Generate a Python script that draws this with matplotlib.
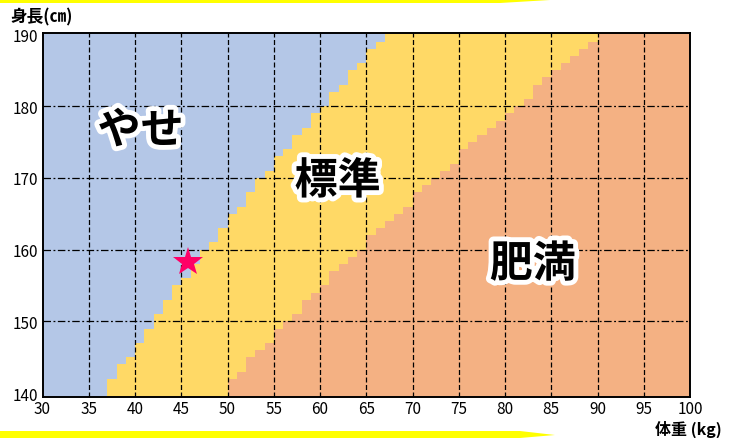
import numpy as np
import matplotlib.pyplot as plt
from matplotlib.colors import ListedColormap
from matplotlib.patches import Polygon
import matplotlib.patheffects as pe

plt.rcParams['font.family'] = ['Noto Sans CJK JP', 'DejaVu Sans']

# cell edges: 1 kg x 1 cm
weight_edges = np.arange(30, 101)
height_edges = np.arange(139, 192)

# やせ / 標準 boundary: for each kg column, the height where やせ starts
thin_w = list(range(37, 67))
thin_top = [142, 144, 145, 147, 149, 151, 153, 155, 156, 158,
            160, 161, 163, 165, 166, 168, 170, 171, 173, 174,
            176, 177, 179, 180, 182, 183, 185, 186, 188, 189]

# 標準 / 肥満 boundary: for each kg column, the height where 標準 starts
fat_w = list(range(50, 90))
fat_top = [142, 143, 145, 146, 147, 149, 150, 151, 153, 154,
           155, 157, 158, 159, 160, 162, 163, 164, 165, 166,
           168, 169, 170, 171, 172, 174, 175, 176, 177, 178,
           179, 180, 181, 183, 184, 185, 186, 187, 188, 189]

labels = ['やせ', '標準', '肥満']
label_pos = [(40.6, 176.6), (61.9, 169.6), (83.0, 158.0)]

star_w, star_h = 45.7, 158.3

colors = ['#b4c7e7', '#ffd966', '#f4b183']

cols = weight_edges[:-1]
rows = height_edges[:-1]
grid = np.ones((len(rows), len(cols)))
for j, w in enumerate(cols):
    if w < thin_w[0]:
        lim1 = height_edges[0]
    elif w > thin_w[-1]:
        lim1 = height_edges[-1]
    else:
        lim1 = thin_top[thin_w.index(w)]
    if w < fat_w[0]:
        lim2 = height_edges[0]
    elif w > fat_w[-1]:
        lim2 = height_edges[-1]
    else:
        lim2 = fat_top[fat_w.index(w)]
    for i, h in enumerate(rows):
        if h >= lim1:
            grid[i, j] = 0
        elif h < lim2:
            grid[i, j] = 2

fig = plt.figure(figsize=(7.36, 4.39), dpi=100)
ax = fig.add_axes([42.5/736, 1-398/439, (690-42.5)/736, (398-34)/439])

ax.pcolormesh(weight_edges, height_edges, grid, cmap=ListedColormap(colors),
              vmin=-0.5, vmax=2.5, zorder=1)

ax.set_xlim(30, 100)
ax.set_ylim(139.45, 190.2)
ax.set_xticks(range(30, 101, 5))
ax.set_yticks(range(140, 191, 10))

for x in range(35, 100, 5):
    ax.axvline(x, color='black', lw=0.9, ls=(0, (4, 2)), zorder=2)
for y in range(150, 190, 10):
    ax.axhline(y, color='black', lw=0.9, ls=(0, (6, 2, 1.5, 2)), zorder=2)

for s in ax.spines.values():
    s.set_linewidth(1.4)
    s.set_zorder(5)
ax.tick_params(length=0, labelsize=11)
ax.tick_params(axis='x', pad=2)
ax.tick_params(axis='y', pad=3)

for lab, (x, y) in zip(labels, label_pos):
    ax.text(x, y, lab, fontsize=31, fontweight='bold', ha='center', va='center',
            zorder=4, path_effects=[pe.withStroke(linewidth=7, foreground='white')])

ax.plot(star_w, star_h, marker='*', color='#ff0066', markersize=22,
        markeredgewidth=0, zorder=6)

fig.text(10/736, 1-17/439, '身長(㎝)', fontsize=12, fontweight='bold',
         ha='left', va='center')
fig.text(722/736, 1-429/439, '体重 (kg)', fontsize=11.5, fontweight='bold',
         ha='right', va='center')

# yellow brush strokes at top and bottom
top_band = [(0, 1), (500/736, 1), (550/736, 1-1/439), (500/736, 1-4/439), (0, 1-4/439)]
bot_band = [(0, 0), (520/736, 0), (555/736, 3/439), (520/736, 7/439), (0, 7/439)]
fig.add_artist(Polygon(top_band, closed=True, transform=fig.transFigure,
                       color='#ffff00', lw=0))
fig.add_artist(Polygon(bot_band, closed=True, transform=fig.transFigure,
                       color='#ffff00', lw=0))

fig.savefig('out.png', dpi=100)
